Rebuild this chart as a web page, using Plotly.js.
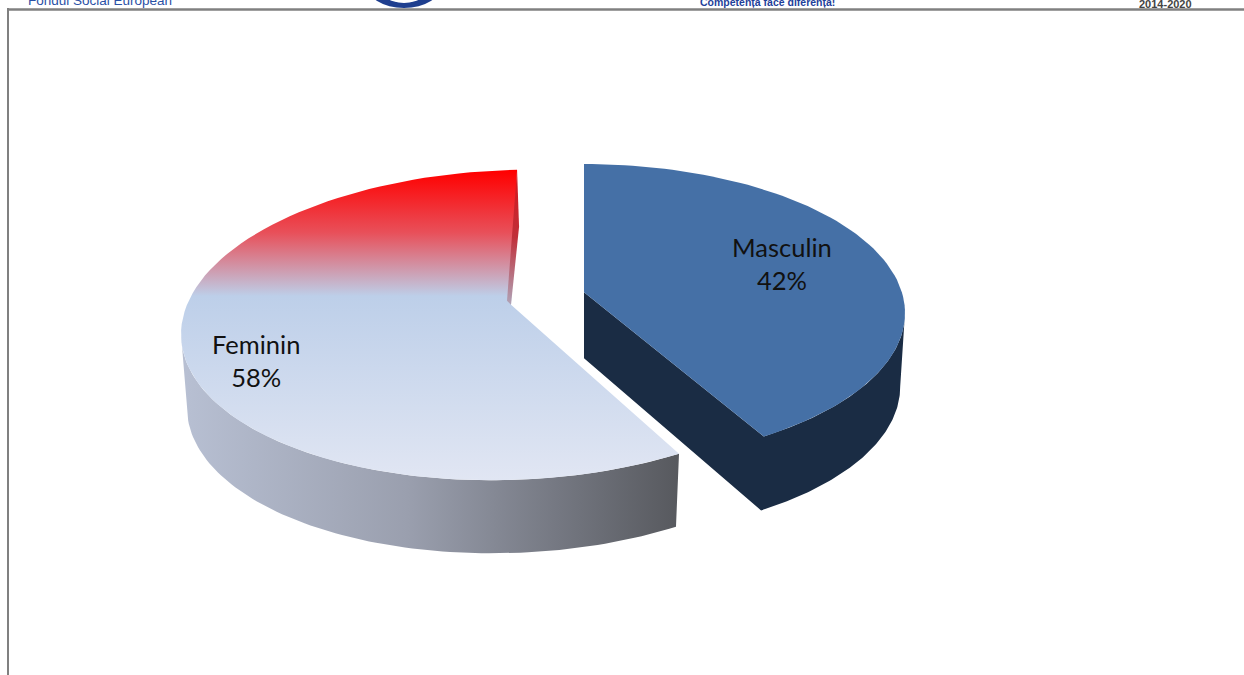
<!DOCTYPE html>
<html><head><meta charset="utf-8">
<script src="https://cdn.plot.ly/plotly-3.0.1.min.js"></script>
<style>html,body{margin:0;padding:0;background:#fff}#c{width:1244px;height:675px}</style>
</head><body><div id="c"></div>
<script>
const categories = ['Masculin', 'Feminin'];
const values = [42, 58];
const headerLeft = 'Fondul Social European';
const headerMid = 'Competența face diferența!';
const headerRight = '2014-2020';

const toDeg = 360 / values.reduce((a, b) => a + b, 0);
const boundary = values[0] * toDeg;

// view geometry of the two pulled-apart slices
const M = {xc:584, rx:321, cy:313, ry:149, a:-0.14, shear:0, depth:74, apexDepth:66, rim:0.985};
const F = {xc:511, rx:330, cy:325, ry:155, a:-0.13, shear:-0.028, depth:73, apexDepth:66, rim:0.982};

function proj(g, deg, r, bottom) {
  const t = deg * Math.PI / 180, u = r * Math.sin(t), v = -r * Math.cos(t);
  const den = 1 + g.a * v;
  const X = u * Math.sqrt(1 - g.a * g.a) / den, s = (v + g.a) / den;
  const rx = bottom ? g.rx * g.rim : g.rx;
  const d = bottom ? (r === 0 ? g.apexDepth : g.depth) : 0;
  return [g.xc + rx * X, g.cy + g.ry * s + g.shear * g.rx * X + d];
}
function arc(g, from, to, bottom) {
  const out = [], n = 90;
  for (let i = 0; i <= n; i++) out.push(proj(g, from + (to - from) * i / n, 1, bottom));
  return out;
}
function poly(pts, extra) {
  const p = pts.concat([pts[0]]);
  return Object.assign({x: p.map(q => q[0]), y: p.map(q => q[1]), type:'scatter', mode:'lines',
    fill:'toself', line:{width:0}, hoverinfo:'skip', showlegend:false}, extra);
}
const mEnd = boundary - 1.0, fStart = boundary + 1.8, fEnd = 361.2;

// Feminin
const fWall = poly(arc(F, fStart, 262.5, false).concat(arc(F, 262.5, fStart, true)), {
  fillgradient:{type:'horizontal', start:186, stop:679,
    colorscale:[[0,'#b7bfd2'],[0.45,'#9a9fae'],[0.8,'#6f727b'],[1,'#57595e']]}});
const fTop = poly([proj(F,0,0,false)].concat(arc(F, fStart, fEnd, false)), {
  fillgradient:{type:'vertical', start:171, stop:480,
    colorscale:[[0,'#ff0000'],[0.2,'#e8505a'],[0.405,'#bdcfe9'],[1,'#e1e6f3']]}});
const rimF = proj(F, fEnd, 1, false), apexF = proj(F, 0, 0, false);
const fCut = poly([rimF, [rimF[0]+2, rimF[1]+57], apexF, [apexF[0]-4, apexF[1]-4]], {
  fillgradient:{type:'vertical', start:rimF[1], stop:apexF[1],
    colorscale:[[0,'#d4141a'],[0.5,'#c0303a'],[1,'#b0a4b8']]}});

// Masculin
const mWall = poly([proj(M,0,0,false), proj(M,0,0,true)].concat(arc(M, mEnd, 98, true), arc(M, 98, mEnd, false)), {
  fillcolor:'#1a2c44'});
const mTop = poly([proj(M,0,0,false)].concat(arc(M, 0, mEnd, false)), {fillcolor:'#4570a6'});

const traces = [fWall, fTop, fCut, mWall, mTop];

const lab = (i, x, y) => ({text: categories[i] + '<br>' + values[i] + '%', x, y, xref:'x', yref:'y',
  showarrow:false, font:{family:'Lato, Carlito, sans-serif', size:25.5, color:'#111'}, align:'center'});
const head = (text, x, y, anchor, size, color, bold) => ({text: bold ? '<b>'+text+'</b>' : text, x, y, xref:'x', yref:'y',
  xanchor:anchor, yanchor:'bottom', showarrow:false, borderpad:0,
  font:{family:'Liberation Sans, Arial, sans-serif', size, color}});

const layout = {
  width:1244, height:675, margin:{l:0,r:0,t:0,b:0}, paper_bgcolor:'#fff', plot_bgcolor:'#fff', showlegend:false,
  xaxis:{range:[0,1244], visible:false, fixedrange:true},
  yaxis:{range:[675,0], visible:false, fixedrange:true},
  annotations:[
    lab(0, 782, 263), lab(1, 256, 360),
    head(headerLeft, 27, 9, 'left', 13.5, '#2a50a5', false),
    head(headerMid, 699, 9, 'left', 10.5, '#1f3f9a', true),
    head(headerRight, 1138, 11, 'left', 11, '#444', true)
  ],
  shapes:[
    {type:'circle', xref:'x', yref:'y', x0:366, x1:442, y0:-40, y1:8, fillcolor:'#1f3f8f', line:{width:0}, layer:'below'},
    {type:'circle', xref:'x', yref:'y', x0:376, x1:432, y0:-40, y1:3, fillcolor:'#ffffff', line:{width:0}, layer:'below'},
    {type:'line', xref:'x', yref:'y', x0:7, x1:1244, y0:9.5, y1:9.5, line:{color:'#808080', width:2.5}, layer:'below'},
    {type:'line', xref:'x', yref:'y', x0:8, x1:8, y0:8, y1:675, line:{color:'#808080', width:2}, layer:'below'}
  ]
};
Plotly.newPlot('c', traces, layout, {displayModeBar:false, staticPlot:true});
</script></body></html>
